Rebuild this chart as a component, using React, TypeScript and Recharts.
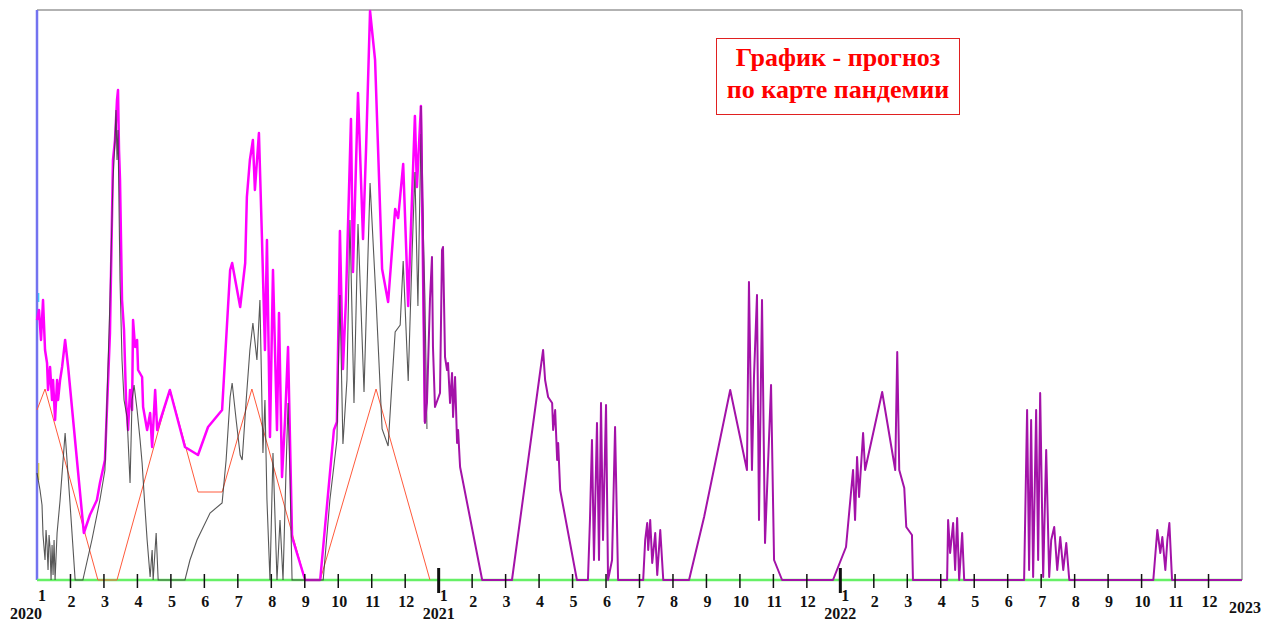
import { LineChart, Line, XAxis, YAxis, ReferenceLine, ReferenceArea } from 'recharts'

// x = months since Jan 2020, y = level (0..570)
type Pt = [number, number]

const months = Array.from({ length: 37 }, (_, i) => i)
const startYear = 2020

const baseline: Pt[] = [[0, 0], [36, 0]]

const redLine: Pt[] = [
  [0, 170], [0.24, 191], [1.82, 0], [2.39, 0], [3.97, 191], [4.81, 88], [5.53, 88],
  [6.42, 191], [8.01, 0], [8.46, 0], [10.13, 191], [11.74, 0],
]

const blackLine: Pt[] = [
  [0, 107], [0.09, 90], [0.15, 75], [0.18, 45], [0.24, 20], [0.27, 50], [0.3, 35], [0.33, 10],
  [0.36, 45], [0.39, 32], [0.42, 0], [0.45, 35], [0.48, 5], [0.51, 40], [0.54, 0], [0.6, 47],
  [0.69, 80], [0.84, 147], [0.99, 75], [1.14, 0], [1.37, 0], [1.64, 40], [1.88, 80], [2.03, 110],
  [2.18, 280], [2.27, 400], [2.33, 440], [2.36, 470], [2.39, 420], [2.42, 450], [2.48, 300],
  [2.54, 220], [2.6, 180], [2.69, 163], [2.78, 97], [2.84, 180], [2.9, 195], [2.99, 170],
  [3.08, 140], [3.14, 117], [3.23, 70], [3.29, 40], [3.38, 3], [3.44, 30], [3.47, 0], [3.56, 47],
  [3.62, 0], [4.42, 0], [4.57, 20], [4.78, 40], [5.17, 67], [5.53, 77], [5.65, 120], [5.77, 183],
  [5.83, 197], [5.95, 160], [6.07, 125], [6.13, 120], [6.25, 180], [6.36, 230], [6.45, 257],
  [6.57, 220], [6.66, 280], [6.75, 127], [6.81, 180], [6.87, 80], [6.96, 0], [7.05, 127],
  [7.17, 0], [7.26, 60], [7.35, 0], [7.44, 110], [7.5, 177], [7.56, 100], [7.62, 0], [8.55, 0],
  [8.75, 80], [8.96, 140], [9.05, 285], [9.14, 136], [9.26, 200], [9.35, 360], [9.47, 177],
  [9.59, 356], [9.77, 188], [9.95, 397], [10.13, 280], [10.31, 151], [10.49, 134], [10.61, 200],
  [10.7, 248], [10.85, 255], [10.94, 319], [11.09, 199], [11.21, 330], [11.29, 408], [11.38, 274],
  [11.47, 446], [11.59, 280], [11.65, 151],
]

const magentaLine: Pt[] = [
  [0, 260], [0.06, 270], [0.12, 240], [0.18, 280], [0.24, 230], [0.3, 217], [0.33, 190],
  [0.39, 213], [0.45, 180], [0.48, 200], [0.54, 160], [0.6, 200], [0.63, 180], [0.69, 200],
  [0.75, 213], [0.84, 240], [0.93, 213], [1.4, 47], [1.58, 65], [1.79, 80], [1.88, 97],
  [2.03, 120], [2.18, 247], [2.27, 420], [2.33, 440], [2.39, 480], [2.42, 490], [2.45, 430],
  [2.48, 400], [2.54, 280], [2.6, 250], [2.66, 180], [2.72, 150], [2.78, 190], [2.84, 170],
  [2.87, 260], [2.93, 233], [2.99, 240], [3.02, 210], [3.14, 203], [3.17, 173], [3.29, 150],
  [3.38, 167], [3.44, 133], [3.53, 190], [3.59, 150], [3.97, 190], [4.42, 133], [4.81, 125],
  [5.11, 153], [5.53, 170], [5.77, 310], [5.83, 317], [6.07, 273], [6.22, 317], [6.27, 383],
  [6.36, 420], [6.45, 440], [6.51, 390], [6.63, 447], [6.72, 343], [6.81, 230], [6.87, 340],
  [6.96, 143], [7.05, 310], [7.17, 150], [7.23, 267], [7.32, 103], [7.41, 160], [7.5, 233],
  [7.62, 43], [8.01, 0], [8.46, 0], [8.87, 150], [8.96, 158], [9.05, 349], [9.14, 211],
  [9.23, 280], [9.38, 461], [9.44, 308], [9.59, 487], [9.74, 341], [9.83, 430], [9.95, 569],
  [10.1, 520], [10.31, 311], [10.49, 278], [10.7, 371], [10.79, 362], [10.94, 416], [11.09, 274],
  [11.29, 464], [11.35, 393], [11.47, 474], [11.59, 158],
]

const purpleLine: Pt[] = [
  [11.47, 474], [11.53, 350], [11.59, 157], [11.65, 177], [11.74, 280], [11.8, 323], [11.83, 233],
  [11.89, 173], [12.04, 187], [12.1, 330], [12.13, 333], [12.19, 223], [12.25, 210], [12.28, 217],
  [12.34, 177], [12.4, 207], [12.43, 163], [12.49, 203], [12.55, 137], [12.58, 150], [12.64, 113],
  [13.3, 0], [14.19, 0], [15.12, 230], [15.18, 200], [15.27, 183], [15.39, 177], [15.42, 150],
  [15.48, 170], [15.54, 120], [15.57, 137], [15.63, 90], [16.13, 0], [16.46, 0], [16.52, 60],
  [16.58, 140], [16.64, 20], [16.73, 157], [16.79, 20], [16.85, 177], [16.91, 40], [17.0, 175],
  [17.06, 0], [17.18, 20], [17.27, 153], [17.36, 0], [18.11, 0], [18.17, 40], [18.23, 57],
  [18.26, 30], [18.32, 60], [18.38, 17], [18.47, 47], [18.53, 5], [18.62, 50], [18.71, 0],
  [19.48, 0], [19.93, 63], [20.71, 190], [21.21, 110], [21.27, 298], [21.36, 110], [21.42, 203],
  [21.51, 285], [21.57, 60], [21.66, 280], [21.75, 37], [21.93, 195], [22.02, 20], [22.26, 0],
  [23.78, 0], [24.17, 33], [24.29, 77], [24.38, 110], [24.44, 60], [24.5, 123], [24.56, 83],
  [24.68, 147], [24.74, 110], [25.25, 188], [25.64, 110], [25.7, 228], [25.76, 110], [25.91, 92],
  [25.97, 53], [26.14, 45], [26.17, 0], [27.19, 0], [27.22, 60], [27.28, 27], [27.37, 57],
  [27.43, 10], [27.49, 62], [27.55, 0], [27.64, 47], [27.7, 0], [29.49, 0], [29.58, 170],
  [29.64, 10], [29.7, 160], [29.76, 3], [29.85, 170], [29.91, 20], [29.97, 187], [30.06, 3],
  [30.15, 130], [30.24, 3], [30.3, 40], [30.39, 53], [30.48, 10], [30.57, 43], [30.66, 10],
  [30.75, 37], [30.84, 0], [33.35, 0], [33.47, 50], [33.56, 27], [33.62, 43], [33.71, 10],
  [33.77, 40], [33.83, 57], [33.91, 0], [36, 0],
]

const toRows = (pts: Pt[]) => pts.map(([x, y]) => ({ x, y }))

const labelFont = { fontFamily: '"Liberation Serif", "Times New Roman", serif', fontWeight: 700, fill: '#111' }

function MonthTick(props: any) {
  const { x, y, payload } = props
  const i: number = payload.value
  const isYear = i % 12 === 0
  const month = (i % 12) + 1
  const year = startYear + i / 12
  return (
    <g>
      {i > 0 && i < 36 && (
        <line x1={x} x2={x} y1={y - (isYear ? 12 : 6)} y2={y + (isYear ? 13 : 8)}
          stroke="#111" strokeWidth={isYear ? 3 : 1.5} />
      )}
      {i < 36 && (
        <text x={x + (isYear ? 5 : 1)} y={y + (isYear ? 21 : 27)} textAnchor="middle" fontSize={16} {...labelFont}>{month}</text>
      )}
      {isYear && (
        <text x={i === 0 ? x - 11 : x + (i === 36 ? 3 : 0)} y={y + (i === 36 ? 33 : 39)}
          textAnchor="middle" fontSize={16} {...labelFont}>{year}</text>
      )}
    </g>
  )
}

export default function App() {
  return (
    <div style={{ position: 'absolute', left: 0, top: 0, width: 1265, height: 621, background: '#fff' }}>
      <LineChart width={1265} height={621} margin={{ top: 10, right: 23, left: 37, bottom: 0 }}>
        <XAxis type="number" dataKey="x" domain={[0, 36]} ticks={months} interval={0}
          height={41} axisLine={false} tickLine={false} tickSize={0} tickMargin={0}
          tick={<MonthTick />} />
        <YAxis type="number" domain={[0, 570]} hide />
        <ReferenceLine y={570} stroke="#999" strokeWidth={1.5} />
        <ReferenceLine x={36} stroke="#999" strokeWidth={1.5} />
        <ReferenceLine x={0} stroke="#7373f0" strokeWidth={2.5} />
        <ReferenceArea x1={0} x2={0.07} y1={278} y2={287} fill="#33ddff" fillOpacity={1} stroke="none" />
        <ReferenceArea x1={0} x2={0.07} y1={100} y2={117} fill="#eedd33" fillOpacity={1} stroke="none" />
        <Line data={toRows(baseline)} dataKey="y" stroke="#66f066" strokeWidth={2.5} dot={false} isAnimationActive={false} />
        <Line data={toRows(redLine)} dataKey="y" stroke="#ff5a3c" strokeWidth={1} dot={false} isAnimationActive={false} />
        <Line data={toRows(magentaLine)} dataKey="y" stroke="#ff00ff" strokeWidth={2.5} dot={false} strokeLinejoin="round" isAnimationActive={false} />
        <Line data={toRows(blackLine)} dataKey="y" stroke="#3a3a3a" strokeWidth={1.1} strokeOpacity={0.85} dot={false} isAnimationActive={false} />
        <Line data={toRows(purpleLine)} dataKey="y" stroke="#a312a8" strokeWidth={2} dot={false} strokeLinejoin="round" isAnimationActive={false} />
      </LineChart>
      <div style={{
        position: 'absolute', left: 716, top: 38, width: 242, height: 72, border: '1px solid #e02020',
        boxSizing: 'content-box', textAlign: 'center', color: '#ff0000', fontWeight: 700, fontSize: 26,
        lineHeight: '32px', paddingTop: 3, fontFamily: '"Liberation Serif", "Times New Roman", serif',
      }}>
        <div>График - прогноз</div>
        <div>по карте пандемии</div>
      </div>
    </div>
  )
}
